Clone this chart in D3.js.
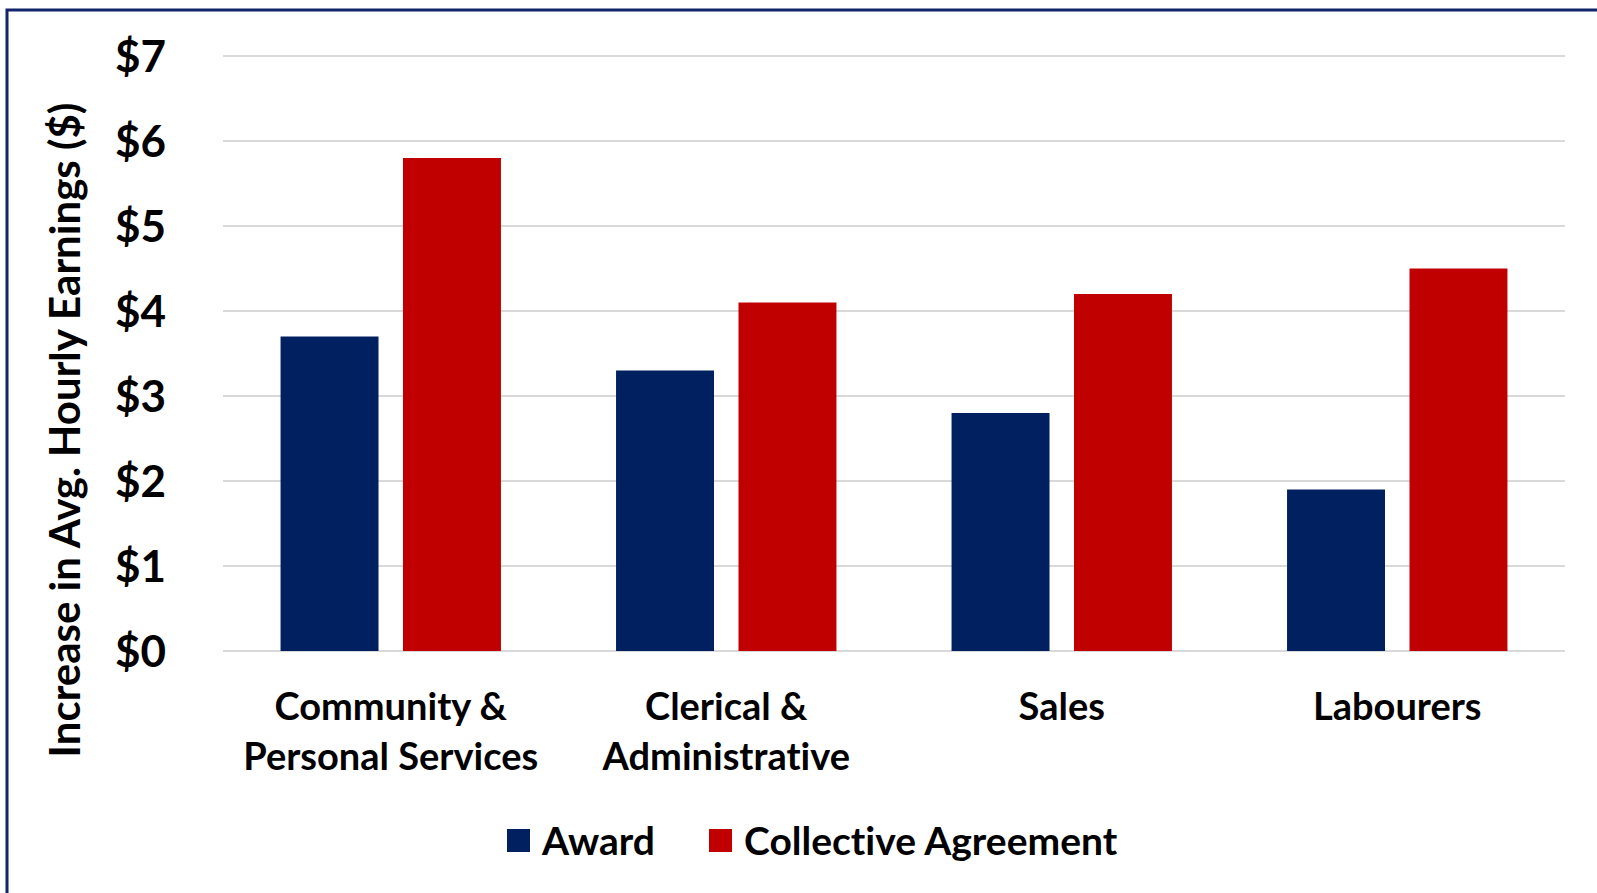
<!DOCTYPE html>
<html>
<head>
<meta charset="utf-8">
<script src="https://cdn.jsdelivr.net/npm/d3@7"></script>
<style>
  body { margin: 0; background: #fff; }
  svg { display: block; font-family: Lato, "Open Sans", sans-serif; font-weight: 700; font-variant-ligatures: none; }
</style>
</head>
<body>
<div id="chart"></div>
<script>
var categories = [["Community &", "Personal Services"], ["Clerical &", "Administrative"], ["Sales"], ["Labourers"]];
var series = ["Award", "Collective Agreement"];
var awardValues = [3.7, 3.3, 2.8, 1.9];
var agreementValues = [5.8, 4.1, 4.2, 4.5];
var yTicks = [0, 1, 2, 3, 4, 5, 6, 7];
var colors = ["#002060", "#c00000"];

(function() {
  const width = 1597, height = 893;
  const margin = {top: 56, right: 32, bottom: 242, left: 223};

  var svg = d3.select("#chart").append("svg")
      .attr("width", width)
      .attr("height", height);

  // frame (runs off the right and bottom of the picture)
  svg.append("rect")
      .attr("x", 7).attr("y", 10)
      .attr("width", 1700).attr("height", 1000)
      .attr("fill", "none")
      .attr("stroke", "#12246a")
      .attr("stroke-width", 3);

  var keys = categories.map(function(c) { return c.join(" "); });

  var x0 = d3.scaleBand()
      .domain(keys)
      .range([margin.left, width - margin.right])
      .padding(0);

  var x1 = d3.scaleBand()
      .domain(series)
      .range([0, x0.bandwidth()])
      .paddingInner(0.2)
      .paddingOuter(0.47);

  var y = d3.scaleLinear()
      .domain([0, 7])
      .range([height - margin.bottom, margin.top]);

  // gridlines
  svg.append("g")
    .selectAll("line")
    .data(yTicks)
    .join("line")
      .attr("x1", margin.left)
      .attr("x2", width - margin.right)
      .attr("y1", function(d) { return y(d); })
      .attr("y2", function(d) { return y(d); })
      .attr("stroke", "#d9d9d9")
      .attr("stroke-width", 2);

  // y tick labels
  svg.append("g")
    .selectAll("text")
    .data(yTicks)
    .join("text")
      .attr("x", 166)
      .attr("y", function(d) { return y(d); })
      .attr("dy", "0.36em")
      .attr("text-anchor", "end")
      .attr("font-size", 44)
      .attr("fill", "#000")
      .text(function(d) { return "$" + d; });

  // bars
  var rows = keys.map(function(k, i) {
    return {key: k, values: [awardValues[i], agreementValues[i]]};
  });

  var groups = svg.append("g")
    .selectAll("g")
    .data(rows)
    .join("g")
      .attr("transform", function(d) { return "translate(" + x0(d.key) + ",0)"; });

  groups.selectAll("rect")
    .data(function(d) { return d.values.map(function(v, i) { return {s: series[i], v: v, i: i}; }); })
    .join("rect")
      .attr("x", function(d) { return x1(d.s); })
      .attr("width", x1.bandwidth())
      .attr("y", function(d) { return y(d.v); })
      .attr("height", function(d) { return y(0) - y(d.v); })
      .attr("fill", function(d) { return colors[d.i]; });

  // category labels
  var labels = svg.append("g")
    .selectAll("text")
    .data(categories)
    .join("text")
      .attr("x", function(d, i) { return x0(keys[i]) + x0.bandwidth() / 2; })
      .attr("y", 720)
      .attr("text-anchor", "middle")
      .attr("font-size", 38)
      .attr("fill", "#000");

  labels.selectAll("tspan")
    .data(function(d) { return d; })
    .join("tspan")
      .attr("x", function() { return d3.select(this.parentNode).attr("x"); })
      .attr("dy", function(d, i) { return i ? 50 : 0; })
      .text(function(d) { return d; });

  // y axis title
  svg.append("text")
      .attr("transform", "translate(80,430) rotate(-90)")
      .attr("text-anchor", "middle")
      .attr("font-size", 42)
      .attr("fill", "#000")
      .text("Increase in Avg. Hourly Earnings ($)");

  // legend
  var legendItems = [{x: 507}, {x: 709}];
  var legend = svg.append("g")
    .selectAll("g")
    .data(series)
    .join("g")
      .attr("transform", function(d, i) { return "translate(" + legendItems[i].x + ",829)"; });

  legend.append("rect")
      .attr("width", 23)
      .attr("height", 23)
      .attr("fill", function(d, i) { return colors[i]; });

  legend.append("text")
      .attr("x", 35)
      .attr("y", 11.5)
      .attr("dy", "0.36em")
      .attr("font-size", 39)
      .attr("fill", "#000")
      .text(function(d) { return d; });
})();
</script>
</body>
</html>
